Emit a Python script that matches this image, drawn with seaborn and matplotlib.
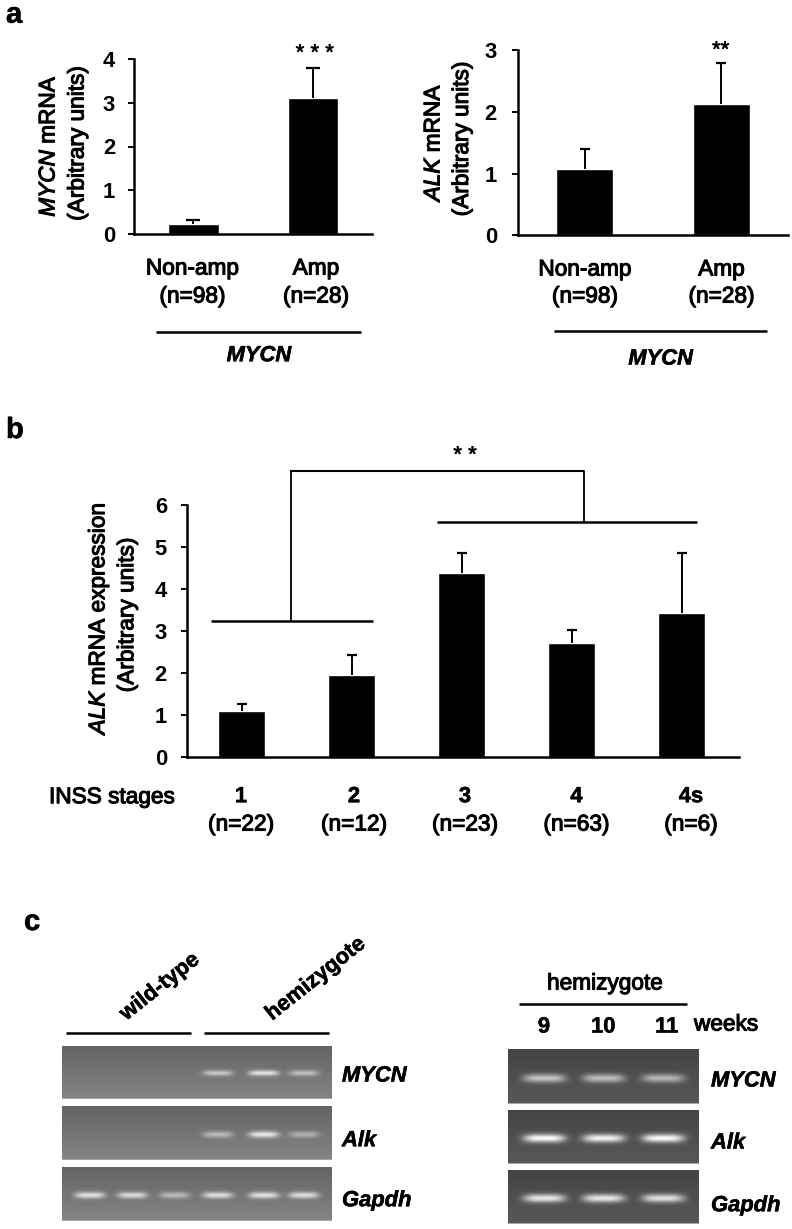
#!/usr/bin/env python3
"""ALK / MYCN expression figure: panels a, b (bars) and c (gels)"""

import numpy as np
import matplotlib
matplotlib.use('Agg')
import matplotlib.pyplot as plt
import matplotlib.patheffects as pe
import seaborn as sns

W, H = 792, 1229

# panel a
amp_labels = ['Non-amp', 'Amp']
amp_n = ['(n=98)', '(n=28)']
mycn_means = [0.22, 3.11]
mycn_tops = [0.32, 3.80]
alk_means = [1.07, 2.13]
alk_tops = [1.39, 2.79]

# panel b
stages = ['1', '2', '3', '4', '4s']
stage_n = ['(n=22)', '(n=12)', '(n=23)', '(n=63)', '(n=6)']
stage_means = [1.08, 1.95, 4.38, 2.71, 3.41]
stage_tops = [1.26, 2.41, 4.85, 3.01, 4.85]

# panel c, band brightness per lane (0-255 grey)
gel_left_genes = ['MYCN', 'Alk', 'Gapdh']
gel_left_mycn = [0, 0, 0, 205, 235, 195]
gel_left_alk = [0, 0, 0, 185, 230, 175]
gel_left_gapdh = [225, 215, 185, 220, 225, 220]
gel_right_mycn = [195, 188, 182]
gel_right_alk = [248, 238, 248]
gel_right_gapdh = [228, 228, 222]
weeks = ['9', '10', '11']

sns.set_style('ticks')
plt.rcParams['font.family'] = ['Liberation Sans', 'DejaVu Sans']
plt.rcParams['mathtext.fontset'] = 'custom'
plt.rcParams['mathtext.it'] = 'Liberation Sans:italic'
plt.rcParams['mathtext.rm'] = 'Liberation Sans'
plt.rcParams['text.color'] = 'black'
plt.rcParams['ytick.labelcolor'] = 'black'

fig = plt.figure(figsize=(W / 100, H / 100), dpi=100, facecolor='white')

# overlay in pixel coordinates for labels and brackets
page = fig.add_axes([0, 0, 1, 1], zorder=10)
page.set_xlim(0, W)
page.set_ylim(H, 0)
page.axis('off')

HEAVY = [pe.withStroke(linewidth=0.8, foreground='black')]
SLIGHT = [pe.withStroke(linewidth=0.4, foreground='black')]


def label(x, y, s, size=16.3, **kw):
    """Regular text thickened a little, like the scanned labels"""
    kw.setdefault('ha', 'center')
    kw.setdefault('va', 'center')
    return page.text(x, y, s, fontsize=size, color='black', path_effects=HEAVY, **kw)


def bold(x, y, s, size=15.8, **kw):
    kw.setdefault('ha', 'center')
    kw.setdefault('va', 'center')
    return page.text(x, y, s, fontsize=size, fontweight='bold', color='black',
                     path_effects=SLIGHT, **kw)


def hline(x0, x1, y, lw=1.8):
    page.plot([x0, x1], [y, y], color='black', lw=lw, solid_capstyle='butt')


def bar_panel(x0, x1, y_base, y_top, cats, means, tops, ymax, bar_w, xlim, pad, capsize):
    ax = fig.add_axes([x0 / W, 1 - y_base / H, (x1 - x0) / W, (y_base - y_top) / H])
    sns.barplot(x=cats, y=means, color='black', saturation=1, width=bar_w, ax=ax)
    # only the upper whisker is shown
    xs = list(range(len(cats)))
    ax.vlines(xs, means, tops, color='black', lw=1.4, clip_on=False)
    ax.plot(xs, tops, ls='none', marker='_', color='black', ms=capsize * 2, mew=1.6, clip_on=False)
    ax.set_xlim(*xlim)
    ax.set_ylim(0, ymax)
    ax.set_yticks(range(ymax + 1))
    ax.set_xticks([])
    ax.tick_params(axis='y', length=4.2, width=1.4, pad=pad, color='black')
    for t in ax.get_yticklabels():
        t.set_fontsize(15.8)
        t.set_fontweight('bold')
        t.set_color('black')
    sns.despine(ax=ax)
    for side in ['left', 'bottom']:
        ax.spines[side].set_linewidth(1.8)
        ax.spines[side].set_color('black')
    ax.patch.set_alpha(0)
    return ax


# --- panel a
bar_panel(133.5, 372, 234, 59, amp_labels, mycn_means, mycn_tops, 4, 0.42, (-0.5, 1.49), 9, 5)
bar_panel(518, 788, 235.3, 50, amp_labels, alk_means, alk_tops, 3, 0.42, (-0.49, 1.49), 11, 3.6)

bold(6, 22.7, 'a', size=21, ha='left', va='baseline')
label(48, 146, r'$\mathit{MYCN}$ mRNA', rotation=90)
label(77, 143.5, '(Arbitrary units)', rotation=90)
label(433, 142, r'$\mathit{ALK}$ mRNA', rotation=90)
label(461.5, 139, '(Arbitrary units)', rotation=90)

label(192.5, 268, amp_labels[0])
label(192.5, 296, amp_n[0])
label(316, 268, amp_labels[1])
label(316, 296, amp_n[1])
label(585, 269, amp_labels[0])
label(585, 296, amp_n[0])
label(721.5, 269, amp_labels[1])
label(721.5, 296, amp_n[1])

hline(156, 360.7, 332)
hline(554, 766.7, 330.7)
bold(259, 355.7, 'MYCN', style='italic')
bold(660.7, 359, 'MYCN', style='italic')

page.text(314.7, 54, '* * *', fontsize=16, ha='center', va='center', path_effects=SLIGHT)
page.text(720.7, 51, '**', fontsize=16, ha='center', va='center', path_effects=SLIGHT)

# --- panel b
bar_panel(186.7, 738.7, 756.7, 504.7, stages, stage_means, stage_tops, 6, 0.43, (-0.5, 4.52), 10, 3.6)

bold(6, 438, 'b', size=21, ha='left', va='baseline')
label(98, 618, r'$\mathit{ALK}$ mRNA expression', rotation=90)
label(126.7, 615, '(Arbitrary units)', rotation=90)
label(112, 796.7, 'INSS stages')

stage_x = [241, 354, 465, 576.5, 691]
for x, s, n in zip(stage_x, stages, stage_n):
    bold(x, 796.7, s, size=15.8)
    label(x, 824, n)

# significance bracket
hline(211, 373, 620.7)
hline(437, 697, 522.3)
hline(290.3, 584.3, 471.3, lw=1.5)
page.plot([291, 291], [471.3, 620.7], color='black', lw=1.3)
page.plot([583.7, 583.7], [471.3, 522.3], color='black', lw=1.3)
page.text(465, 456, '* *', fontsize=16, ha='center', va='center', path_effects=SLIGHT)

# --- panel c
bold(24, 930, 'c', size=21, ha='left', va='baseline')


def gel_matrix(w, h, lane_x, band_y, peaks, bg_top, bg_bottom, band_w, band_h):
    """Grey image of one gel strip, one row/column per pixel"""
    yy, xx = np.mgrid[0:h, 0:w]
    img = bg_top + (bg_bottom - bg_top) * yy / (h - 1)
    for lx, peak in zip(lane_x, peaks):
        if peak == 0:
            continue
        shape = np.exp(-((yy - band_y) / band_h) ** 2) * np.exp(-np.abs((xx - lx) / band_w) ** 4)
        img = img + (peak - img) * shape
    img[-1:, :] = 165
    return img


def draw_gel(x0, x1, y0, y1, peaks, lane_x, band_y, bg_top, bg_bottom, band_w, band_h):
    ax = fig.add_axes([x0 / W, 1 - y1 / H, (x1 - x0) / W, (y1 - y0) / H])
    w, h = int(round(x1 - x0)), int(round(y1 - y0))
    img = gel_matrix(w, h, np.array(lane_x) - x0, band_y - y0, peaks, bg_top, bg_bottom, band_w, band_h)
    sns.heatmap(img, vmin=0, vmax=255, cmap='gray', cbar=False, xticklabels=False,
                yticklabels=False, ax=ax)


left_lanes = [89.3, 132, 174, 217.3, 263.3, 303.3]
left_rows = [(1045.7, 1099.3, 1072.7, gel_left_mycn), (1106, 1160.3, 1134, gel_left_alk),
             (1167.3, 1221.3, 1195, gel_left_gapdh)]
for y0, y1, by, peaks in left_rows:
    draw_gel(62, 331.7, y0, y1, peaks, left_lanes, by, 100, 132, 15, 3.2)

right_lanes = [544, 603.3, 662.7]
right_rows = [(1049.3, 1104, 1078, gel_right_mycn), (1110, 1164, 1137.7, gel_right_alk),
              (1170, 1224, 1197.7, gel_right_gapdh)]
for y0, y1, by, peaks in right_rows:
    draw_gel(508, 698.7, y0, y1, peaks, right_lanes, by, 68, 88, 21, 4.2)

hline(66, 191, 1032.7)
hline(204, 328.7, 1032.7)
bold(160, 987, 'wild-type', rotation=38.5, rotation_mode='anchor')
bold(316, 979, 'hemizygote', rotation=38.5, rotation_mode='anchor')

for name, y in zip(gel_left_genes, [1076, 1140.7, 1200.7]):
    bold(342, y, name, ha='left', style='italic')
for name, y in zip(gel_left_genes, [1081, 1143, 1205.7]):
    bold(711, y, name, ha='left', style='italic')

hline(519.3, 686.7, 1003.7)
label(605, 983, 'hemizygote')
for x, s in zip(right_lanes, weeks):
    bold(x + (4 if s == '11' else 0), 1027, s)
label(694, 1024, 'weeks', ha='left')

fig.savefig('out.png', dpi=100, facecolor='white')
